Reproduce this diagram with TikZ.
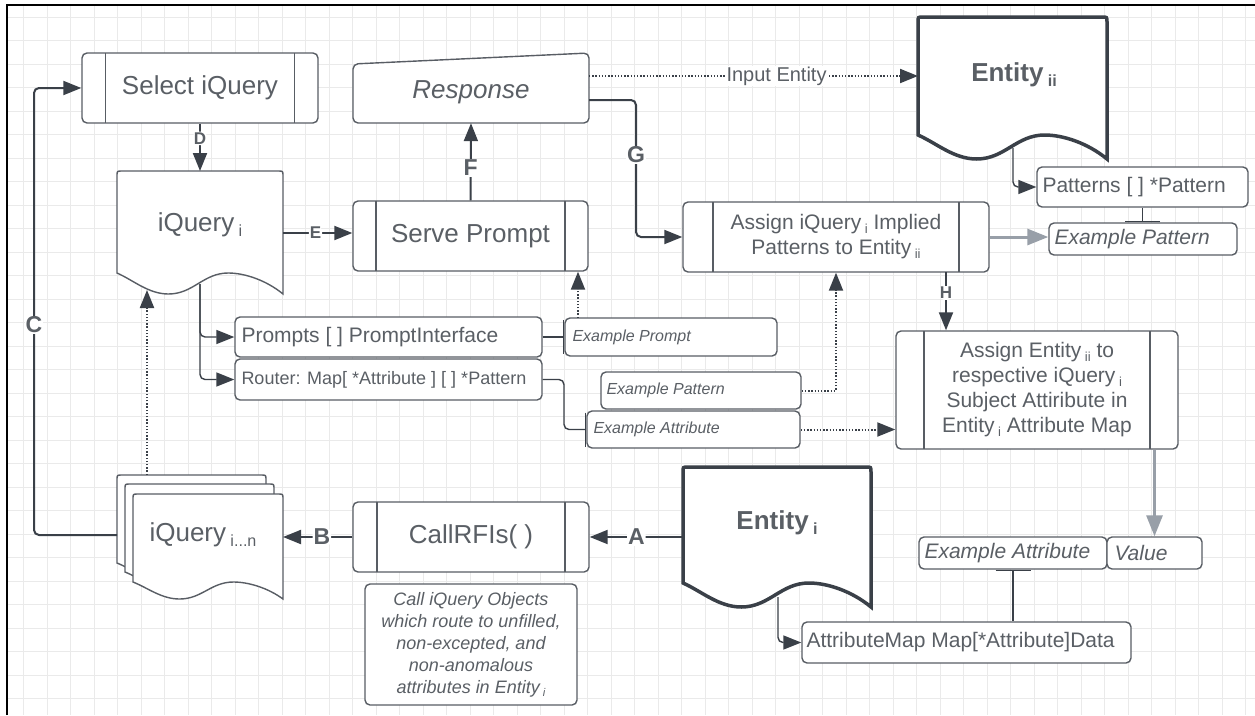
\documentclass[tikz,border=0pt]{standalone}
\usepackage{fontspec}
\setmainfont{Liberation Sans}
\usetikzlibrary{arrows.meta}
\definecolor{linec}{RGB}{58,64,72}
\definecolor{boxc}{RGB}{88,93,100}
\definecolor{txtc}{RGB}{90,95,101}
\definecolor{grayarr}{RGB}{152,159,168}
\definecolor{gridc}{RGB}{234,234,234}
\newcommand\sbs[1]{\,\raisebox{-0.18em}{\scalebox{0.62}{#1}}}
\newcommand\fs[2]{\fontsize{#1}{#2}\selectfont}
\newcommand\docpath[6]{%
 \pgfmathsetmacro\dW{#4-#2}%
 \pgfmathsetmacro\dXp{#2+0.67*\dW}%
 \pgfmathsetmacro\dXt{#2+0.31*\dW}%
 \pgfmathsetmacro\dYb{#5+#6}%
 \pgfmathsetmacro\dA{#4-0.1*\dW}%
 \pgfmathsetmacro\dB{#5+0.35*#6}%
 \pgfmathsetmacro\dC{\dXp+0.1*\dW}%
 \pgfmathsetmacro\dD{\dXp-0.15*\dW}%
 \pgfmathsetmacro\dE{\dXt+0.15*\dW}%
 \pgfmathsetmacro\dF{\dXt-0.12*\dW}%
 \pgfmathsetmacro\dG{#2+0.1*\dW}%
 \draw[#1] ({#2},{#5}) -- ({#2},{#3+5}) .. controls ({#2},{#3}) .. ({#2+5},{#3}) -- ({#4-5},{#3}) .. controls ({#4},{#3}) .. ({#4},{#3+5}) -- ({#4},\dYb) .. controls (\dA,\dB) and (\dC,{#5}) .. (\dXp,{#5}) .. controls (\dD,{#5}) and (\dE,\dYb) .. (\dXt,\dYb) .. controls (\dF,\dYb) and (\dG,\dB) .. ({#2},{#5}) -- cycle;%
}
\tikzset{
 box/.style={draw=boxc, line width=1.4pt, rounded corners=5pt, fill=white, inner sep=0pt, text=txtc},
 procbox/.style={box, path picture={\draw[boxc,line width=1.4pt] ([xshift=#1]path picture bounding box.north west) -- ([xshift=#1]path picture bounding box.south west) ([xshift=-#1]path picture bounding box.north east) -- ([xshift=-#1]path picture bounding box.south east);}},
 docthin/.style={draw=boxc, line width=1.4pt, fill=white},
 docthick/.style={draw=linec, line width=3.5pt, fill=white},
 conn/.style={draw=linec, line width=2pt, rounded corners=5pt},
 thinc/.style={draw=linec, line width=1.4pt, rounded corners=5pt},
 tri/.style={-{Triangle[length=18pt,width=14pt]}},
 barend/.style={-{Bar[width=#1]}},
 barstart/.style={{Bar[width=#1]}-},
 dotline/.style={draw=linec, line width=2pt, dash pattern=on 1.4pt off 1.8pt},
 grayline/.style={draw=grayarr, line width=3pt, -{Triangle[length=21pt,width=16pt]}},
 lab/.style={fill=white, text=txtc, font=\bfseries\fs{23}{23}, inner sep=1pt},
 slab/.style={fill=white, text=txtc, font=\bfseries\fs{17}{17}, inner sep=1pt},
 tx/.style={text=txtc, inner sep=0pt, anchor=west},
}
\begin{document}
\begin{tikzpicture}[x=1pt,y=-1pt]
\useasboundingbox (0,0) rectangle (1255,715);
\fill[white] (0,0) rectangle (1255,715);
\foreach \i in {1,...,53} \draw[gridc, line width=0.8pt] ({\i*23.5},5) -- ({\i*23.5},715);
\foreach \j in {0,...,29} \draw[gridc, line width=0.8pt] (7,{17+\j*23.5}) -- (1255,{17+\j*23.5});
\draw[black,line width=2pt] (7,715) -- (7,5) -- (1255,5);

% ---- process boxes
\node[procbox=23.5pt, minimum width=236pt, minimum height=70pt, font=\fs{26}{30}] (sel) at (200,88) {Select iQuery};
\node[procbox=23pt, minimum width=235pt, minimum height=70pt, font=\fs{26}{30}] (serve) at (470.5,236) {Serve Prompt};
\node[procbox=30pt, minimum width=306pt, minimum height=70pt, font=\fs{21}{25}, align=center] (aiq) at (836,237) {Assign iQuery\sbs{i} Implied\\Patterns to Entity\sbs{ii}};
\node[procbox=28pt, minimum width=282pt, minimum height=118pt, font=\fs{21}{25}, align=center] (aen) at (1037,390) {Assign Entity\sbs{ii} to\\respective iQuery\sbs{i}\\Subject Attiribute in\\Entity\sbs{i} Attribute Map};
\node[procbox=24pt, minimum width=236pt, minimum height=70pt, font=\fs{26}{30}] (call) at (471,537) {CallRFIs( )};

% ---- Response (manual input)
\draw[box] (353,123) -- (353,64) -- (589,53) -- (589,123) -- cycle;
\node[font=\itshape\fs{26}{30}, text=txtc, minimum width=236pt, minimum height=62pt, inner sep=0pt] (resp) at (471,92) {Response};
\coordinate (respR1) at (589,76);
\coordinate (respR2) at (589,100);

% ---- documents
\docpath{docthin}{117}{171}{283}{273}{21}
\node[font=\fs{26}{30}, text=txtc, inner sep=0pt] (iq) at (200,225) {iQuery\sbs{i}};
\coordinate (iqN) at (200,171);
\coordinate (iqE) at (283,233);
\coordinate (iqB) at (200,284);
\coordinate (iqS) at (147,290);

\docpath{docthick}{918}{17}{1107}{135}{24}
\node[font=\bfseries\fs{26}{30}, text=txtc, inner sep=0pt] (e2) at (1014,75) {Entity\sbs{ii}};
\coordinate (e2W) at (918,76);
\coordinate (e2B) at (1013,148);

\docpath{docthick}{683}{467}{871}{583}{24}
\node[font=\bfseries\fs{26}{30}, text=txtc, inner sep=0pt] (e1) at (777,523) {Entity\sbs{i}};
\coordinate (e1W) at (683,537);
\coordinate (e1B) at (778,597);

\docpath{docthin}{117}{475}{266}{563}{17}
\docpath{docthin}{125}{484}{274}{572}{17}
\docpath{docthin}{133}{494}{283}{582}{17}
\node[font=\fs{26}{30}, text=txtc, inner sep=0pt] (stk) at (203,535) {iQuery\sbs{i...n}};
\coordinate (stkL) at (117,535);
\coordinate (stkE) at (283,537);
\coordinate (stkT) at (147,475);

% ---- data boxes
\node[box, minimum width=307pt, minimum height=40pt] (prm) at (388.5,337) {};
\node[tx, font=\fs{21}{21}] (prmT) at ([xshift=7pt]prm.west) {Prompts [ ] PromptInterface};
\node[box, minimum width=307pt, minimum height=41pt] (rtr) at (388.5,379.5) {};
\node[tx, font=\fs{18}{18}] (rtrT) at ([xshift=7pt]rtr.west) {Router: Map[ *Attribute ] [ ] *Pattern};
\node[box, minimum width=212pt, minimum height=38pt] (exprm) at (671,337) {};
\node[tx, font=\itshape\fs{16}{16}] (exprmT) at ([xshift=8pt]exprm.west) {Example Prompt};
\node[box, minimum width=200pt, minimum height=37pt] (expat) at (701,390.5) {};
\node[tx, font=\itshape\fs{16}{16}] (expatT) at ([xshift=6pt]expat.west) {Example Pattern};
\node[box, minimum width=213pt, minimum height=37pt] (exatt) at (693.5,429.5) {};
\node[tx, font=\itshape\fs{16}{16}] (exattT) at ([xshift=7pt]exatt.west) {Example Attribute};
\node[box, minimum width=211pt, minimum height=40pt] (pat) at (1142.5,187) {};
\node[tx, font=\fs{21}{21}] (patT) at ([xshift=6pt]pat.west) {Patterns [ ] *Pattern};
\node[box, minimum width=188pt, minimum height=32pt] (expatR) at (1143,239) {};
\node[tx, font=\itshape\fs{21}{21}] (expatRT) at ([xshift=6pt]expatR.west) {Example Pattern};
\node[box, minimum width=188pt, minimum height=32pt] (exattR) at (1013,553) {};
\node[tx, font=\itshape\fs{21}{21}] (exattRT) at ([xshift=6pt]exattR.west) {Example Attribute};
\node[box, minimum width=95pt, minimum height=32pt] (val) at (1154.5,553) {};
\node[tx, font=\itshape\fs{21}{21}] (valT) at ([xshift=8pt]val.west) {Value};
\node[box, minimum width=329pt, minimum height=41pt] (amap) at (966.5,642.5) {};
\node[tx, font=\fs{21}{21}] (amapT) at ([xshift=5pt]amap.west) {AttributeMap Map[*Attribute]Data};
\node[box, minimum width=212pt, minimum height=121pt, align=center, font=\itshape\fs{18}{22}] (note) at (471,644.5) {Call iQuery Objects\\which route to unfilled,\\non-excepted, and\\non-anomalous\\attributes in Entity\sbs{i}};

% ---- connectors
\coordinate (cC) at (34,535);
\draw[conn,tri] (stkL) -- (cC) |- (sel.west);
\node[lab] (labC) at (34,325) {C};
\draw[conn,tri] (sel.south) -- (iqN) node[slab,pos=0.31] (labD) {D};
\draw[conn,tri] (iqE) -- (iqE -| serve.west) node[slab,pos=0.47] (labE) {E};
\draw[conn,tri] (serve.north) -- (resp.south) node[lab,pos=0.42] (labF) {F};
\draw[dotline,tri] (respR1) -- (e2W) node[fill=white, text=txtc, font=\fs{20}{20}, inner sep=1pt, pos=0.57] (labIn) {Input Entity};
\coordinate (gA) at (636,100);
\draw[conn,tri] (respR2) -- (gA) |- (aiq.west);
\node[lab] (labG) at (636,155) {G};
\draw[thinc,tri] (iqB) |- (prm.west);
\draw[thinc,tri] (iqB) |- (rtr.west);
\draw[thinc,barend=34pt] (prm.east) -- (exprm.west);
\coordinate (epT) at (578,318);
\draw[dotline,tri] (epT) -- (epT |- serve.south);
\coordinate (rA) at (564,379.5);
\draw[thinc,barend=34pt] (rtr.east) -- (rA) |- (exatt.west);
\draw[dotline,tri] (expat.east) -| (aiq.south);
\draw[dotline,tri] (exatt.east) -- (exatt.east -| aen.west);
\draw[grayline] (aiq.east) -- (aiq.east -| expatR.west);
\draw[thinc,tri] (e2B) |- (pat.west);
\draw[thinc,barend=35pt] (pat.south) -- (pat.south |- expatR.north);
\coordinate (hS) at (946,272);
\draw[conn,tri] (hS) -- (hS |- aen.north) node[slab,pos=0.36] (labH) {H};
\draw[grayline] (aen.south -| val.north) -- (val.north);
\draw[thinc,barstart=35pt] (exattR.south) -- (exattR.south |- amap.north);
\draw[thinc,tri] (e1B) |- (amap.west);
\draw[conn,tri] (e1W) -- (call.east) node[lab,pos=0.5] (labA) {A};
\draw[conn,tri] (call.west) -- (stkE) node[lab,pos=0.44] (labB) {B};
\draw[dotline,tri] (stkT) -- (iqS);
\end{tikzpicture}
\end{document}
